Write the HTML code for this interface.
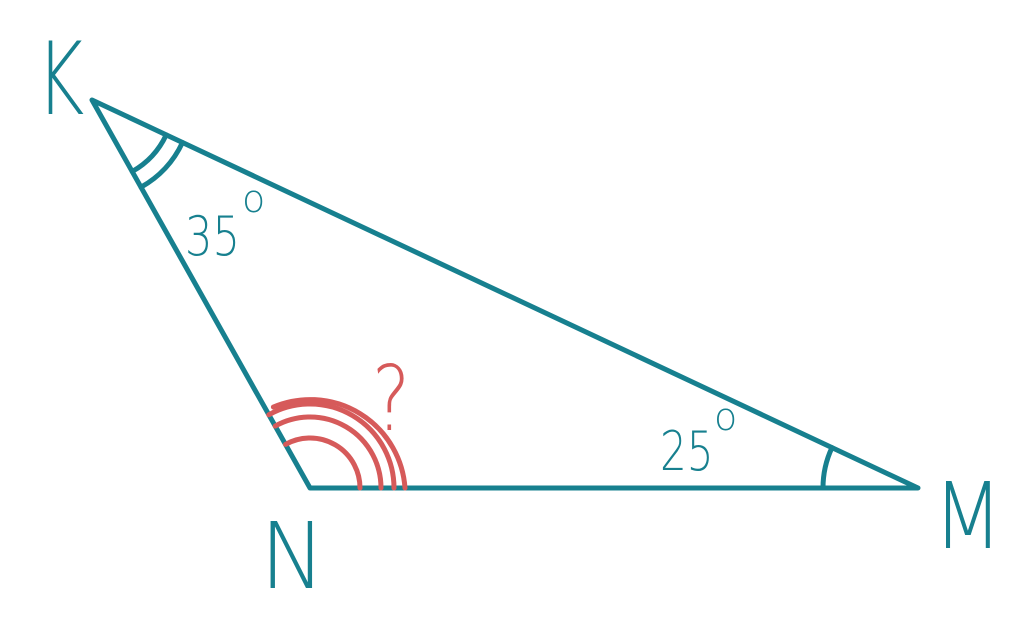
<!DOCTYPE html>
<html><head><style>
html,body{margin:0;padding:0;background:#fff;}
svg{display:block}
text{font-family:"DejaVu Sans","Liberation Sans",sans-serif;}
</style></head><body>
<svg width="1020" height="618" viewBox="0 0 1020 618" xmlns="http://www.w3.org/2000/svg">
<g fill="none" stroke="#17808f" stroke-linecap="round" stroke-linejoin="round">
<polygon points="92,100 310,488 918,488" stroke-width="5"/>
<path d="M132.2,171.5 A82,82 0 0 0 166.2,134.9" stroke-width="5"/>
<path d="M141,187.2 A100,100 0 0 0 182.5,142.5" stroke-width="5"/>
<path d="M823,488 A95,95 0 0 1 832,447.6" stroke-width="5"/>
</g>
<g fill="none" stroke="#d65a5a" stroke-width="5" stroke-linecap="round">
<path d="M360,488 A50,50 0 0 0 285.5,444.4"/>
<path d="M381,488 A71,71 0 0 0 275.2,426.1"/>
<path d="M394,488 A84,84 0 0 0 268.8,414.8"/>
<path d="M405,488 A95,95 0 0 0 273.4,407"/>
</g>
<g fill="#17808f" font-weight="200">
<text transform="translate(36,114) scale(0.8,1.1)" font-size="92">K</text>
<text transform="translate(933,548) scale(0.88,1)" font-size="92">M</text>
<text transform="translate(260,588) scale(0.95,1)" font-size="92">N</text>
<text transform="translate(185,255) scale(0.8,1)" font-size="54">35</text>
<text x="242" y="212" font-size="38">o</text>
<text transform="translate(660,470) scale(0.78,1)" font-size="54">25</text>
<text x="714" y="430" font-size="38">o</text>
</g>
<text transform="translate(372,430) scale(0.8,1)" font-size="90" font-weight="200" fill="#d65a5a">?</text>
</svg>
</body></html>
